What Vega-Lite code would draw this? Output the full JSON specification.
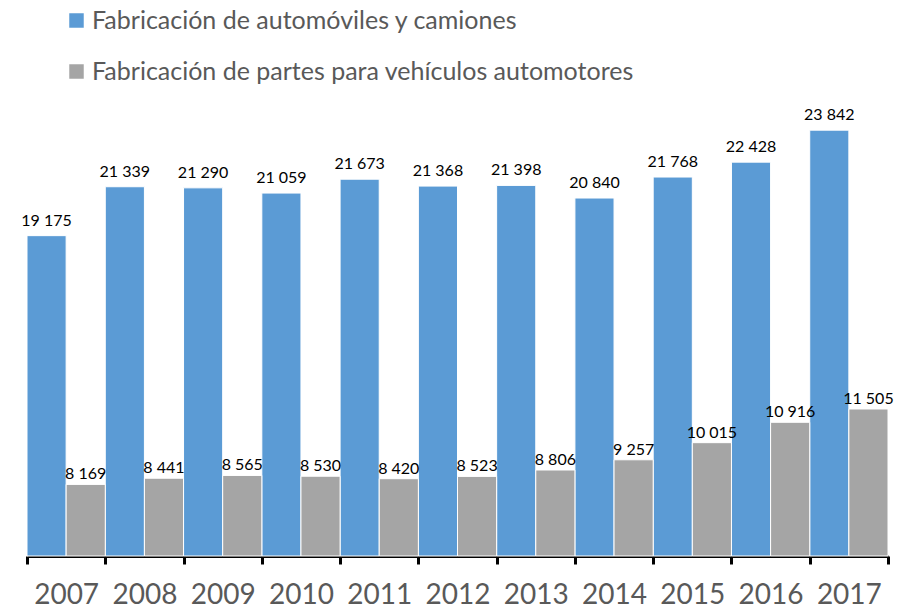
{
  "$schema": "https://vega.github.io/schema/vega-lite/v6.json",
  "autosize": {"type": "none"},
  "padding": {"left": 27, "top": 104, "right": 12, "bottom": 54},
  "width": 861,
  "height": 452,
  "background": "white",
  "config": {"view": {"stroke": null}, "font": "Lato"},
  "data": {"values": [
    {"year": "2007", "serie": "Fabricación de automóviles y camiones", "value": 19175, "label": "19 175"},
    {"year": "2008", "serie": "Fabricación de automóviles y camiones", "value": 21339, "label": "21 339"},
    {"year": "2009", "serie": "Fabricación de automóviles y camiones", "value": 21290, "label": "21 290"},
    {"year": "2010", "serie": "Fabricación de automóviles y camiones", "value": 21059, "label": "21 059"},
    {"year": "2011", "serie": "Fabricación de automóviles y camiones", "value": 21673, "label": "21 673"},
    {"year": "2012", "serie": "Fabricación de automóviles y camiones", "value": 21368, "label": "21 368"},
    {"year": "2013", "serie": "Fabricación de automóviles y camiones", "value": 21398, "label": "21 398"},
    {"year": "2014", "serie": "Fabricación de automóviles y camiones", "value": 20840, "label": "20 840"},
    {"year": "2015", "serie": "Fabricación de automóviles y camiones", "value": 21768, "label": "21 768"},
    {"year": "2016", "serie": "Fabricación de automóviles y camiones", "value": 22428, "label": "22 428"},
    {"year": "2017", "serie": "Fabricación de automóviles y camiones", "value": 23842, "label": "23 842"},
    {"year": "2007", "serie": "Fabricación de partes para vehículos automotores", "value": 8169, "label": "8 169"},
    {"year": "2008", "serie": "Fabricación de partes para vehículos automotores", "value": 8441, "label": "8 441"},
    {"year": "2009", "serie": "Fabricación de partes para vehículos automotores", "value": 8565, "label": "8 565"},
    {"year": "2010", "serie": "Fabricación de partes para vehículos automotores", "value": 8530, "label": "8 530"},
    {"year": "2011", "serie": "Fabricación de partes para vehículos automotores", "value": 8420, "label": "8 420"},
    {"year": "2012", "serie": "Fabricación de partes para vehículos automotores", "value": 8523, "label": "8 523"},
    {"year": "2013", "serie": "Fabricación de partes para vehículos automotores", "value": 8806, "label": "8 806"},
    {"year": "2014", "serie": "Fabricación de partes para vehículos automotores", "value": 9257, "label": "9 257"},
    {"year": "2015", "serie": "Fabricación de partes para vehículos automotores", "value": 10015, "label": "10 015"},
    {"year": "2016", "serie": "Fabricación de partes para vehículos automotores", "value": 10916, "label": "10 916"},
    {"year": "2017", "serie": "Fabricación de partes para vehículos automotores", "value": 11505, "label": "11 505"}
  ]},
  "encoding": {
    "x": {
      "field": "year", "type": "nominal", "title": null,
      "scale": {"paddingInner": 0, "paddingOuter": 0},
      "axis": {
        "labelAngle": 0, "labelFontSize": 28, "labelColor": "#595959",
        "labelPadding": 17, "domainColor": "#000000", "domainWidth": 3,
        "tickColor": "#000000", "tickWidth": 3, "tickSize": 8, "tickBand": "extent"
      }
    },
    "xOffset": {"field": "serie", "type": "nominal", "sort": null}
  },
  "layer": [
    {
      "mark": {"type": "bar", "stroke": "white", "strokeWidth": 1},
      "encoding": {
        "y": {"field": "value", "type": "quantitative", "scale": {"domain": [5000, 25000], "zero": false, "nice": false, "padding": 0}, "axis": null},
        "y2": {"datum": 5000},
        "color": {
          "field": "serie", "type": "nominal",
          "scale": {"domain": ["Fabricación de automóviles y camiones", "Fabricación de partes para vehículos automotores"], "range": ["#5B9BD5", "#A5A5A5"]},
          "legend": {
            "title": null, "orient": "none", "legendX": 37, "legendY": -96, "padding": 0,
            "direction": "vertical", "symbolType": "square", "symbolSize": 210,
            "symbolStrokeWidth": 0,
            "labelFontSize": 25, "labelColor": "#595959", "labelLimit": 800,
            "rowPadding": 25, "labelOffset": 3
          }
        }
      }
    },
    {
      "transform": [{"filter": "datum.serie === 'Fabricación de automóviles y camiones'"}],
      "mark": {"type": "text", "fontSize": 16, "color": "#000000", "baseline": "alphabetic", "dy": -10},
      "encoding": {
        "y": {"field": "value", "type": "quantitative"},
        "text": {"field": "label"}
      }
    },
    {
      "transform": [{"filter": "datum.serie !== 'Fabricación de automóviles y camiones'"}],
      "mark": {"type": "text", "fontSize": 16, "color": "#000000", "baseline": "alphabetic", "dy": -5},
      "encoding": {
        "y": {"field": "value", "type": "quantitative"},
        "text": {"field": "label"}
      }
    }
  ]
}
